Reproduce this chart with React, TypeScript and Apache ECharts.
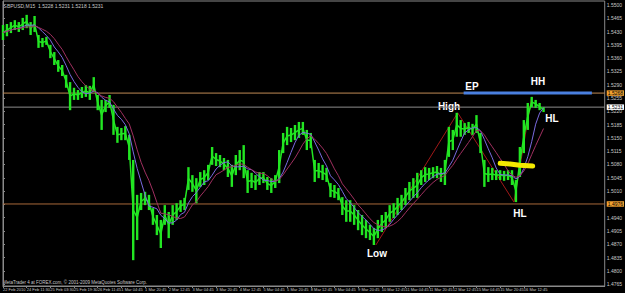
import React, { useEffect, useRef } from "react";
import * as echarts from "echarts";

// ---------- data ----------
const symbolInfo = "GBPUSD,M15  1.5228 1.5231 1.5218 1.5231";
const footerText = "MetaTrader 4 at FOREX.com, © 2001-2009 MetaQuotes Software Corp.";

const timeLabels = [
  "22 Feb 2010", "24 Feb 11:30", "25 Feb 03:30", "25 Feb 19:30", "26 Feb 11:45",
  "1 Mar 04:45", "1 Mar 20:45", "2 Mar 12:45", "3 Mar 04:45", "3 Mar 20:45",
  "4 Mar 12:45", "5 Mar 04:45", "5 Mar 20:45", "8 Mar 12:45", "9 Mar 04:45",
  "9 Mar 20:45", "10 Mar 12:45", "11 Mar 04:45", "11 Mar 20:45", "12 Mar 12:45",
  "15 Mar 04:45", "15 Mar 20:45", "16 Mar 12:45",
];
const barsPerLabel = 6;

const priceTicks = [
  1.55, 1.5465, 1.543, 1.5395, 1.536, 1.5325, 1.529, 1.5255, 1.522, 1.5185, 1.515,
  1.5115, 1.508, 1.5045, 1.501, 1.4975, 1.494, 1.4905, 1.487, 1.4835, 1.48, 1.4765,
];

const barHighs = [
  1.5447, 1.545, 1.5455, 1.546, 1.5455, 1.5466, 1.5474, 1.5455, 1.5471, 1.5421,
  1.5413, 1.5416, 1.5395, 1.5376, 1.5355, 1.5342, 1.5316, 1.5297, 1.5282, 1.5276,
  1.5284, 1.5289, 1.5287, 1.531, 1.5263, 1.525, 1.525, 1.5263, 1.5237, 1.5179,
  1.5176, 1.5181, 1.5158, 1.5092, 1.5, 1.5005, 1.5008, 1.5, 1.4965, 1.4947,
  1.4934, 1.4973, 1.4955, 1.4973, 1.4978, 1.4986, 1.4992, 1.5073, 1.5052, 1.5044,
  1.506, 1.5065, 1.5079, 1.5126, 1.511, 1.5105, 1.5097, 1.5092, 1.5079, 1.5105,
  1.5118, 1.5131, 1.5065, 1.5058, 1.5052, 1.506, 1.506, 1.5047, 1.5044, 1.5052,
  1.5118, 1.5163, 1.5179, 1.5176, 1.5184, 1.5192, 1.5192, 1.5171, 1.5163, 1.5092,
  1.5084, 1.5079, 1.5071, 1.5031, 1.5026, 1.5018, 1.4994, 1.4986, 1.4986, 1.4973,
  1.496, 1.4947, 1.4934, 1.4921, 1.4913, 1.4934, 1.4947, 1.4955, 1.4973, 1.4978,
  1.4992, 1.5, 1.5018, 1.5034, 1.5044, 1.5058, 1.5065, 1.5073, 1.5071, 1.5073,
  1.5076, 1.5071, 1.5092, 1.5179, 1.5171, 1.5216, 1.5197, 1.5189, 1.5192, 1.5187,
  1.521, 1.5163, 1.5092, 1.5073, 1.5071, 1.5065, 1.5065, 1.5063, 1.5065, 1.5065,
  1.5039, 1.5126, 1.5197, 1.5242, 1.5258, 1.525, 1.5242, 1.5231,
];
const barLows = [
  1.5408, 1.5418, 1.5426, 1.5434, 1.5429, 1.5434, 1.5439, 1.5421, 1.5429, 1.5387,
  1.5389, 1.5395, 1.536, 1.5342, 1.5324, 1.5313, 1.5282, 1.5223, 1.525, 1.525,
  1.5255, 1.5258, 1.525, 1.5271, 1.5223, 1.5171, 1.5218, 1.5229, 1.5158, 1.5137,
  1.5144, 1.5144, 1.5092, 1.4828, 1.4881, 1.496, 1.4973, 1.496, 1.4921, 1.4894,
  1.486, 1.4921, 1.4886, 1.4921, 1.4934, 1.4955, 1.496, 1.5013, 1.5008, 1.4978,
  1.5021, 1.5026, 1.5039, 1.5079, 1.5076, 1.5073, 1.5065, 1.5047, 1.5021, 1.5052,
  1.5065, 1.5044, 1.5005, 1.5018, 1.5013, 1.5026, 1.5031, 1.5013, 1.5005, 1.5018,
  1.5031, 1.511, 1.5131, 1.5139, 1.5144, 1.515, 1.5158, 1.5118, 1.5123, 1.5034,
  1.5044, 1.5039, 1.5034, 1.4994, 1.4992, 1.4986, 1.4947, 1.4929, 1.4929, 1.4921,
  1.4907, 1.4894, 1.4886, 1.4881, 1.4868, 1.4886, 1.4902, 1.4913, 1.4929, 1.4939,
  1.4947, 1.496, 1.4973, 1.4986, 1.4992, 1.4992, 1.5026, 1.5034, 1.5039, 1.5044,
  1.5044, 1.5034, 1.5026, 1.51, 1.5118, 1.5153, 1.5153, 1.5158, 1.5163, 1.5158,
  1.5163, 1.511, 1.5021, 1.5034, 1.5039, 1.5039, 1.5039, 1.5037, 1.5039, 1.5026,
  1.4981, 1.5047, 1.511, 1.5171, 1.5231, 1.5229, 1.5223, 1.5218,
];

const zigzagIdx = [94.5, 115.25, 129.5, 134];
const zigzagPrice = [1.4868, 1.5216, 1.4981, 1.5258];

const epLevel = 1.5268;
const bidLevel = 1.5231;
const supportLevel = 1.4976;
const epLineIdx = [116.75, 149.25];

const markerIdx = [126, 128.5, 131, 134.25];
const markerPrice = [1.5083, 1.5081, 1.5078, 1.5076];

const maFastPeriod = 5;
const maSlowPeriod = 8;

// ---------- component ----------
const GREEN = "#22e622";
const X_MAX = 152.5;

function sma(values: number[], n: number): number[][] {
  const out: number[][] = [];
  for (let i = 0; i < values.length; i++) {
    const from = Math.max(0, i - n + 1);
    let s = 0;
    for (let j = from; j <= i; j++) s += values[j];
    out.push([i, s / (i - from + 1)]);
  }
  return out;
}

export default function App() {
  const ref = useRef<HTMLDivElement>(null);

  useEffect(() => {
    document.body.style.margin = "0";
    document.body.style.background = "#000";
    if (!ref.current) return;
    const chart = echarts.init(ref.current, null, { renderer: "svg" });

    const bars = barHighs.map((h, i) => [i, barLows[i], h]);
    const mids = barHighs.map((h, i) => (h + barLows[i]) / 2);
    const xTicks = timeLabels.map((_, k) => k * barsPerLabel);

    const levelSeries = (value: number, color: string, bg: string) => ({
      type: "line",
      data: [
        [0, value],
        [X_MAX, value],
      ],
      showSymbol: false,
      silent: true,
      lineStyle: { color, width: 1 },
      z: 1,
      endLabel: {
        show: true,
        distance: 2,
        formatter: () => value.toFixed(4),
        color: "#000",
        backgroundColor: bg,
        fontSize: 5,
        fontFamily: "Liberation Sans",
        padding: [0.5, 1, 0, 1],
      },
    });

    const textEl = (text: string, x: number, y: number) => ({
      type: "text",
      x,
      y,
      style: {
        text,
        fill: "#fff",
        font: "bold 10px 'Liberation Sans', Arial, sans-serif",
        textAlign: "center",
        textVerticalAlign: "middle",
      },
    });

    chart.setOption({
      animation: false,
      backgroundColor: "#000",
      grid: {
        left: 1,
        top: 1,
        right: 14,
        bottom: 7,
        show: true,
        borderColor: "#8a8a8a",
        borderWidth: 1,
        backgroundColor: "#000",
      },
      xAxis: {
        type: "value",
        min: 0,
        max: X_MAX,
        splitLine: { show: false },
        axisLine: { show: true, lineStyle: { color: "#8a8a8a" } },
        axisTick: {
          show: true,
          customValues: xTicks,
          length: 2,
          lineStyle: { color: "#8a8a8a" },
        },
        axisLabel: {
          customValues: xTicks,
          formatter: (v: number) => timeLabels[Math.round(v / barsPerLabel)] ?? "",
          align: "left",
          color: "#c8c8c8",
          fontSize: 4,
          fontFamily: "Liberation Sans",
          margin: 1,
        },
      },
      yAxis: {
        type: "value",
        position: "right",
        min: 1.476,
        max: 1.55105,
        splitLine: { show: false },
        axisLine: { show: true, lineStyle: { color: "#8a8a8a" } },
        axisTick: {
          show: true,
          customValues: priceTicks,
          length: 2,
          lineStyle: { color: "#8a8a8a" },
        },
        axisLabel: {
          customValues: priceTicks,
          formatter: (v: number) => v.toFixed(4),
          color: "#c8c8c8",
          fontSize: 5,
          fontFamily: "Liberation Sans",
          margin: 2,
        },
      },
      series: [
        levelSeries(epLevel, "#c08a55", "#f0a030"),
        levelSeries(bidLevel, "#8c8c8c", "#ffffff"),
        levelSeries(supportLevel, "#a8683a", "#f0a030"),
        {
          type: "line",
          data: zigzagIdx.map((x, i) => [x, zigzagPrice[i]]),
          showSymbol: false,
          lineStyle: { color: "#a01818", width: 1 },
          z: 2,
        },
        {
          type: "line",
          data: mids.map((m, i) => [i, m]),
          showSymbol: false,
          lineStyle: { color: GREEN, width: 1.5 },
          z: 3,
        },
        {
          type: "custom",
          data: bars,
          encode: { x: 0, y: [1, 2] },
          z: 3,
          renderItem: (_p: any, api: any) => {
            const x = api.value(0);
            const top = api.coord([x, api.value(2)]);
            const bot = api.coord([x, api.value(1)]);
            return {
              type: "rect",
              shape: {
                x: top[0] - 1.2,
                y: top[1],
                width: 2.4,
                height: Math.max(1, bot[1] - top[1]),
              },
              style: { fill: GREEN },
            };
          },
        },
        {
          type: "line",
          data: sma(mids, maFastPeriod),
          showSymbol: false,
          lineStyle: { color: "#7a6ae0", width: 1 },
          z: 4,
        },
        {
          type: "line",
          data: sma(mids, maSlowPeriod),
          showSymbol: false,
          lineStyle: { color: "#a03060", width: 1 },
          z: 4,
        },
        {
          type: "line",
          data: epLineIdx.map((x) => [x, epLevel]),
          showSymbol: false,
          lineStyle: { color: "#4a80e0", width: 3 },
          z: 5,
        },
        {
          type: "line",
          data: markerIdx.map((x, i) => [x, markerPrice[i]]),
          showSymbol: false,
          lineStyle: { color: "#f4ea00", width: 5, cap: "round" },
          z: 6,
        },
      ],
      graphic: [
        {
          type: "text",
          x: 3,
          y: 3,
          style: {
            text: symbolInfo,
            fill: "#c8c8c8",
            font: "5px 'Liberation Sans', sans-serif",
          },
        },
        {
          type: "text",
          x: 3,
          y: 280,
          style: {
            text: footerText,
            fill: "#c8c8c8",
            font: "4.5px 'Liberation Sans', sans-serif",
          },
        },
        textEl("EP", 472, 86),
        textEl("HH", 538, 81),
        textEl("High", 449, 106),
        textEl("HL", 552, 118),
        textEl("HL", 520, 213),
        textEl("Low", 377, 253),
      ],
    });

    return () => chart.dispose();
  }, []);

  return <div ref={ref} style={{ width: 625, height: 293, background: "#000" }} />;
}
